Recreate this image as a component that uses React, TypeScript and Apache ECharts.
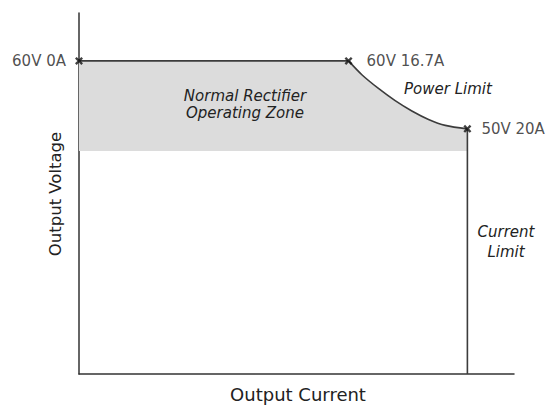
import React, { useEffect, useRef } from "react";
import * as echarts from "echarts";

// Schematic units (the reference diagram is not drawn to scale)
const xMax = 112;
const yMax = 115.3;
const zoneFloor = 71.2;

// Constant-voltage segment: 60V from 0A to 16.7A
const voltageLimit: [number, number][] = [
  [0, 100],
  [69.4, 100],
];
// Power-limit curve: 60V 16.7A -> 50V 20A
const powerLimit: [number, number][] = [
  [69.4, 100],
  [72.9, 95.5],
  [77.1, 91.2],
  [81.4, 87.3],
  [85.7, 84.0],
  [90.0, 81.3],
  [94.3, 79.4],
  [100, 78.3],
];
// Current-limit segment: 20A down to 0V
const currentLimit: [number, number][] = [
  [100, 78.3],
  [100, 0],
];
// Zone fill under the flat segment, tucked just under the start of the curve
// so the two grey areas overlap instead of leaving a hairline seam
const zoneFlat: [number, number][] = [
  [0, 100],
  [69.4, 100],
  [70.3, 98.4],
];

const cornerPoints: [number, number][] = [
  [0, 100],
  [69.4, 100],
  [100, 78.3],
];
const cornerLabels = ["60V 0A", "60V 16.7A", "50V 20A"];
const cornerLabelPos = ["left", "right", "right"];
const cornerLabelDist = [9, 14, 10];

const FONT = "'DejaVu Sans', sans-serif";
const CROSS =
  "path://M0,2.1L2.1,0L5,2.9L7.9,0L10,2.1L7.1,5L10,7.9L7.9,10L5,7.1L2.1,10L0,7.9L2.9,5Z";
const LINE_COLOR = "#3c3c3c";
const FILL = "#dcdcdc";

export default function App() {
  const ref = useRef<HTMLDivElement>(null);
  useEffect(() => {
    if (!ref.current) return;
    const chart = echarts.init(ref.current, null, { renderer: "svg" });
    chart.setOption({
      animation: false,
      backgroundColor: "#ffffff",
      grid: { left: 79, right: 33, top: 13, bottom: 31 },
      xAxis: {
        type: "value",
        min: 0,
        max: xMax,
        axisLine: { show: true, lineStyle: { color: "#333", width: 1.5 } },
        axisTick: { show: false },
        axisLabel: { show: false },
        splitLine: { show: false },
      },
      yAxis: {
        type: "value",
        min: 0,
        max: yMax,
        axisLine: { show: true, lineStyle: { color: "#333", width: 1.5 } },
        axisTick: { show: false },
        axisLabel: { show: false },
        splitLine: { show: false },
      },
      series: [
        {
          type: "line",
          data: zoneFlat,
          showSymbol: false,
          lineStyle: { width: 0, opacity: 0 },
          areaStyle: { color: FILL, opacity: 1, origin: zoneFloor },
          z: 1,
        },
        {
          type: "line",
          data: powerLimit,
          smooth: 0.3,
          showSymbol: false,
          lineStyle: { width: 0, opacity: 0 },
          areaStyle: { color: FILL, opacity: 1, origin: zoneFloor },
          z: 1,
        },
        {
          type: "line",
          data: voltageLimit,
          showSymbol: false,
          lineStyle: { color: LINE_COLOR, width: 1.6 },
          z: 3,
        },
        {
          type: "line",
          data: powerLimit,
          smooth: 0.3,
          showSymbol: false,
          lineStyle: { color: LINE_COLOR, width: 1.6 },
          z: 3,
        },
        {
          type: "line",
          data: currentLimit,
          showSymbol: false,
          lineStyle: { color: LINE_COLOR, width: 1.6 },
          z: 3,
        },
        {
          type: "scatter",
          data: cornerPoints.map((p, i) => ({
            value: p,
            label: {
              show: true,
              formatter: cornerLabels[i],
              position: cornerLabelPos[i],
              distance: cornerLabelDist[i],
              color: "#222",
              fontSize: 15,
              fontFamily: FONT,
            },
          })),
          symbol: CROSS,
          symbolSize: 8,
          itemStyle: { color: "#111" },
          z: 5,
        },
      ],
      graphic: [
        {
          type: "text",
          x: 245,
          y: 104,
          z: 100,
          style: {
            text: "Normal Rectifier\nOperating Zone",
            font: `italic 15px ${FONT}`,
            fill: "#222",
            align: "center",
            verticalAlign: "middle",
            lineHeight: 17,
          },
        },
        {
          type: "text",
          x: 404,
          y: 89,
          z: 100,
          style: {
            text: "Power Limit",
            font: `italic 15px ${FONT}`,
            fill: "#222",
            verticalAlign: "middle",
          },
        },
        {
          type: "text",
          x: 506,
          y: 242,
          z: 100,
          style: {
            text: "Current\nLimit",
            font: `italic 15px ${FONT}`,
            fill: "#222",
            align: "center",
            verticalAlign: "middle",
            lineHeight: 20,
          },
        },
        {
          type: "text",
          x: 298,
          y: 394,
          z: 100,
          style: {
            text: "Output Current",
            font: `18px ${FONT}`,
            fill: "#222",
            align: "center",
            verticalAlign: "middle",
          },
        },
        {
          type: "text",
          x: 55,
          y: 194,
          z: 100,
          rotation: Math.PI / 2,
          style: {
            text: "Output Voltage",
            font: `16.5px ${FONT}`,
            fill: "#222",
            align: "center",
            verticalAlign: "middle",
          },
        },
      ],
    });
    return () => chart.dispose();
  }, []);
  return (
    <div
      ref={ref}
      style={{ position: "absolute", left: 0, top: 0, width: 547, height: 405 }}
    />
  );
}
